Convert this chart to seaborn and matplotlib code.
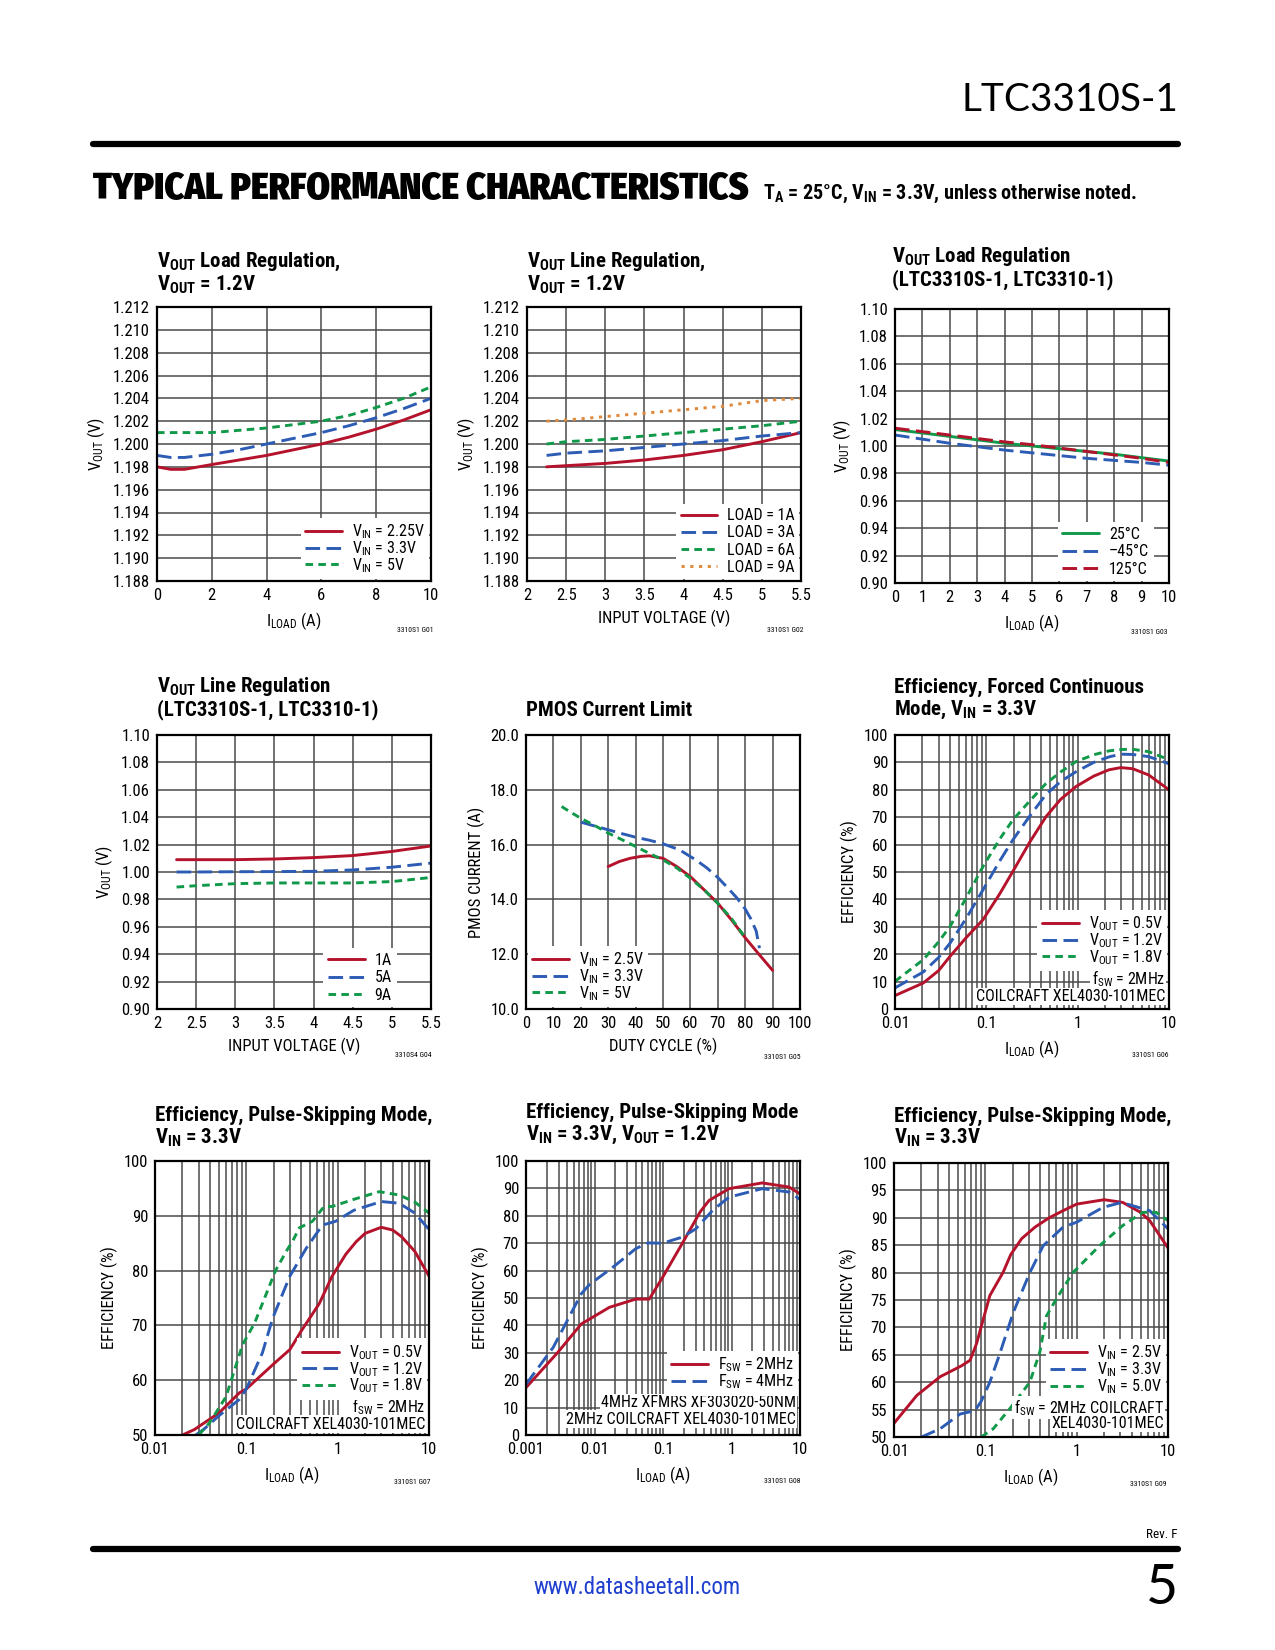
import numpy as np
import matplotlib
matplotlib.use('Agg')
import matplotlib.pyplot as plt
import matplotlib.ticker as mtick
from matplotlib import font_manager as fm
import seaborn as sns


def pick(cands, weight):
    # first candidate family that has a face near the wanted weight
    for c in cands:
        ws = []
        for f in fm.fontManager.ttflist:
            if f.name == c and f.style == 'normal':
                try:
                    ws.append(int(f.weight))
                except (TypeError, ValueError):
                    ws.append(400)
        if ws and min(abs(w - weight) for w in ws) <= 100:
            return c
    return 'DejaVu Sans'


NARROW = ['Liberation Sans Narrow', 'Roboto Condensed', 'Fira Sans Condensed',
          'IBM Plex Sans Condensed', 'Archivo Narrow', 'Asap Condensed']
REG = pick(NARROW, 400)
BOLD = pick(NARROW, 700)
HEAVY = pick(['Roboto Condensed', 'Fira Sans Condensed', 'Asap Condensed',
              'IBM Plex Sans Condensed', 'Liberation Sans Narrow'], 900)
if HEAVY == 'DejaVu Sans':
    HEAVY = BOLD

sns.set_theme(style='white')
plt.rcParams['font.family'] = [REG, 'DejaVu Sans']
plt.rcParams['mathtext.default'] = 'regular'
for k in ['text.color', 'axes.labelcolor', 'xtick.color', 'ytick.color']:
    plt.rcParams[k] = 'black'

RED = '#b5122c'
BLUE = '#2d5cb4'
GREEN = '#11994a'
ORANGE = '#df8a3c'
SOLID = '-'
LONG = (0, (5, 2.2))
SHORT = (0, (2.6, 1.8))
DOT = (0, (1.1, 1.9))

# ---- G01 load regulation, VOUT = 1.2V
g01_x = [0, 0.5, 1, 2, 3, 4, 5, 6, 7, 8, 9, 10]
g01_vin225 = [1.1980, 1.19778, 1.19778, 1.1982, 1.1986, 1.1990, 1.1995, 1.2000, 1.2006, 1.2013, 1.2021, 1.2030]
g01_vin33 = [1.1990, 1.19882, 1.19882, 1.1991, 1.1995, 1.2000, 1.2005, 1.2010, 1.2016, 1.2023, 1.2031, 1.2040]
g01_vin5 = [1.2010, 1.2010, 1.2010, 1.2010, 1.2012, 1.2014, 1.2017, 1.2020, 1.2025, 1.2032, 1.2040, 1.2050]

# ---- G02 line regulation, VOUT = 1.2V
g02_x = [2.25, 2.5, 3, 3.5, 4, 4.5, 5, 5.5]
g02_load1 = [1.1980, 1.1981, 1.1983, 1.1986, 1.1990, 1.1995, 1.2002, 1.2010]
g02_load3 = [1.1990, 1.1992, 1.1994, 1.1997, 1.2000, 1.2003, 1.2007, 1.2010]
g02_load6 = [1.2000, 1.2002, 1.2004, 1.2007, 1.2010, 1.2013, 1.2016, 1.2020]
g02_load9 = [1.2020, 1.2021, 1.2024, 1.2027, 1.2030, 1.2033, 1.2038, 1.2040]

# ---- G03 load regulation vs temperature
g03_x = [0, 1, 2, 3, 4, 5, 6, 7, 8, 9, 10]
g03_t25 = [1.012, 1.0095, 1.007, 1.0045, 1.002, 1.000, 0.998, 0.996, 0.994, 0.9915, 0.989]
g03_tm45 = [1.008, 1.005, 1.002, 0.9995, 0.997, 0.995, 0.993, 0.991, 0.9895, 0.988, 0.986]
g03_t125 = [1.013, 1.0105, 1.008, 1.0055, 1.003, 1.001, 0.9985, 0.996, 0.9935, 0.991, 0.988]

# ---- G04 line regulation vs load
g04_x = [2.25, 2.5, 3, 3.5, 4, 4.5, 5, 5.5]
g04_1a = [1.009, 1.009, 1.009, 1.0095, 1.0105, 1.012, 1.015, 1.019]
g04_5a = [1.000, 1.000, 1.0002, 1.0003, 1.0005, 1.0015, 1.0035, 1.0065]
g04_9a = [0.989, 0.990, 0.9915, 0.992, 0.992, 0.992, 0.993, 0.996]

# ---- G05 PMOS current limit
g05_x25 = [30, 34, 38, 42, 45, 50, 55, 60, 65, 70, 75, 80, 85, 90]
g05_vin25 = [15.2, 15.38, 15.5, 15.57, 15.59, 15.5, 15.2, 14.83, 14.35, 13.86, 13.25, 12.6, 12.0, 11.41]
g05_x33 = [20, 25, 30, 35, 40, 45, 50, 56, 62, 66, 70, 74, 77, 80, 82, 84, 85.2]
g05_vin33 = [16.82, 16.68, 16.54, 16.4, 16.27, 16.16, 16.03, 15.81, 15.44, 15.15, 14.8, 14.38, 14.05, 13.65, 13.3, 12.85, 12.22]
g05_x5 = [13, 16, 20, 25, 30, 35, 40, 45, 50, 55, 60, 65, 70, 75, 80]
g05_vin5 = [17.39, 17.2, 16.96, 16.7, 16.42, 16.18, 15.93, 15.68, 15.44, 15.15, 14.77, 14.35, 13.86, 13.3, 12.6]

# ---- G06 efficiency, forced continuous
g06_x = [0.01, 0.0204, 0.03, 0.04, 0.06, 0.092, 0.14, 0.195, 0.3, 0.45, 0.65, 0.96, 1.5, 2.2, 2.96, 4.0, 6.0, 10]
g06_v05 = [4.9, 9.5, 14.0, 19.2, 26.0, 32.6, 42.0, 50.2, 61.0, 70.2, 76.5, 81.2, 85.0, 87.3, 88.1, 87.7, 85.4, 80.0]
g06_v12 = [7.7, 13.5, 18.8, 24.0, 33.0, 43.5, 54.0, 61.7, 70.5, 78.3, 83.0, 86.6, 90.0, 92.0, 93.0, 92.9, 92.1, 89.5]
g06_v18 = [10.1, 18.0, 24.5, 30.1, 40.5, 52.0, 62.0, 69.0, 76.0, 82.3, 86.5, 90.3, 92.8, 94.2, 94.7, 94.8, 93.9, 91.0]

# ---- G07 efficiency, pulse-skipping, VIN = 3.3V
g07_x05 = [0.02, 0.027, 0.05, 0.084, 0.1, 0.2, 0.3, 0.4, 0.63, 0.87, 1.23, 1.6, 2.0, 3.0, 4.0, 5.0, 7.0, 10]
g07_v05 = [50.0, 51.0, 54.0, 57.7, 58.4, 63.0, 65.6, 69.0, 74.0, 79.0, 83.0, 85.3, 86.8, 87.9, 87.4, 86.2, 83.5, 79.0]
g07_x12 = [0.028, 0.034, 0.05, 0.084, 0.1, 0.15, 0.194, 0.3, 0.45, 0.68, 0.95, 1.5, 3.0, 4.7, 7.0, 10]
g07_v12 = [50.0, 51.0, 53.5, 56.5, 58.4, 65.0, 71.3, 79.0, 84.0, 88.3, 89.0, 91.0, 92.6, 92.3, 90.5, 87.5]
g07_x18 = [0.03, 0.0395, 0.06, 0.091, 0.123, 0.21, 0.28, 0.32, 0.38, 0.53, 0.71, 0.87, 1.5, 2.85, 4.7, 7.0, 10]
g07_v18 = [50.0, 52.2, 57.0, 66.5, 70.4, 80.1, 83.8, 85.3, 87.8, 89.0, 91.7, 91.7, 93.0, 94.4, 93.8, 92.5, 90.5]

# ---- G08 efficiency, pulse-skipping, VOUT = 1.2V
g08_x2 = [0.001, 0.0029, 0.0064, 0.0165, 0.04, 0.063, 0.099, 0.19, 0.35, 0.47, 0.92, 2.8, 6.9, 10]
g08_f2 = [17.3, 30.1, 40.5, 46.6, 49.6, 49.6, 57.6, 69.8, 81.5, 85.6, 89.9, 92.0, 90.5, 88.0]
g08_x4 = [0.001, 0.0025, 0.0064, 0.0085, 0.0185, 0.04, 0.06, 0.099, 0.19, 0.3, 0.53, 0.92, 2.8, 6.9, 10]
g08_f4 = [18.5, 32.0, 51.5, 55.0, 61.2, 68.0, 70.1, 70.0, 72.2, 75.2, 82.0, 86.8, 89.9, 88.7, 86.0]

# ---- G09 efficiency, pulse-skipping vs VIN
g09_x25 = [0.01, 0.0178, 0.032, 0.055, 0.068, 0.08, 0.112, 0.157, 0.19, 0.25, 0.35, 0.5, 0.71, 1.0, 2.0, 3.2, 5.0, 6.3, 10]
g09_v25 = [52.5, 57.6, 61.0, 63.0, 64.0, 67.0, 75.8, 80.1, 83.3, 86.2, 88.3, 90.0, 91.3, 92.5, 93.3, 92.8, 91.0, 89.5, 84.5]
g09_x33 = [0.02, 0.032, 0.053, 0.077, 0.09, 0.112, 0.144, 0.202, 0.307, 0.43, 0.71, 1.0, 1.94, 3.1, 6.3, 10]
g09_v33 = [50.0, 51.5, 54.2, 54.8, 56.5, 60.0, 65.2, 72.7, 80.0, 84.9, 88.3, 89.2, 91.9, 92.8, 91.3, 88.0]
g09_x50 = [0.09, 0.122, 0.186, 0.307, 0.395, 0.467, 0.6, 0.91, 1.78, 3.2, 5.3, 7.4, 10]
g09_v50 = [50.0, 51.5, 55.2, 60.0, 65.5, 72.1, 75.2, 80.0, 84.9, 88.6, 91.0, 91.0, 89.5]

W, H = 1275, 1650
fig = plt.figure(figsize=(W / 100, H / 100), dpi=100)
fig.patch.set_facecolor('white')


def fx(px):
    return px / W


def fy(py):
    return 1 - py / H


def make_ax(left, top, size=274):
    ax = fig.add_axes([fx(left), fy(top + size), size / W, size / H])
    ax.set_facecolor('white')
    for s in ax.spines.values():
        s.set_color('black')
        s.set_linewidth(1.6)
    ax.tick_params(length=0, labelsize=12, pad=5, colors='black')
    ax.set_axisbelow(True)
    return ax


def grid(ax, which='major'):
    ax.grid(True, which=which, color='#4a4a4a', lw=1.1)


def curve(ax, x, y, color, ls, label):
    sns.lineplot(x=x, y=y, ax=ax, color=color, linestyle=ls, lw=2.1, label=label, sort=False)


def leg(ax, loc='lower right', anchor=None, fs=11.5, sp=-0.12):
    # sp: row spacing, labels with subscripts are taller so they get less
    kw = dict(loc=loc, frameon=True, facecolor='white', edgecolor='none', framealpha=1,
              fancybox=False, fontsize=fs, handlelength=2.3, handletextpad=0.6,
              labelspacing=sp, borderpad=0.3, borderaxespad=0.1)
    if anchor is not None:
        kw['bbox_to_anchor'] = anchor
    ax.legend(**kw)


def note(ax, x, y, s, ha='right'):
    ax.text(x, y, s, transform=ax.transAxes, ha=ha, va='center', fontsize=11.5,
            bbox=dict(facecolor='white', edgecolor='none', pad=0.8), zorder=5)


def title(left, ys, lines):
    for y, s in zip(ys, lines):
        fig.text(fx(left), fy(y), s, fontsize=15, fontweight='bold', ha='left', va='center',
                 family=[BOLD, 'DejaVu Sans'])


def fig_id(x, y, s):
    fig.text(fx(x), fy(y), s, fontsize=5.5, ha='center', va='center')


def log_axis(ax, lo, hi, labels):
    ax.set_xscale('log')
    ax.set_xlim(lo, hi)
    ax.xaxis.set_major_locator(mtick.LogLocator(base=10))
    ax.xaxis.set_minor_locator(mtick.LogLocator(base=10, subs=np.arange(2, 10)))
    ax.xaxis.set_minor_formatter(mtick.NullFormatter())
    ticks = [lo * 10 ** i for i in range(len(labels))]
    ax.set_xticks(ticks, labels)
    ax.tick_params(which='minor', length=0)
    ax.grid(True, which='both', axis='x', color='#4a4a4a', lw=1.1)
    ax.grid(True, which='major', axis='y', color='#4a4a4a', lw=1.1)


VOUT = r'V$_{OUT}$'
VIN = r'V$_{IN}$'
ILOAD = r'I$_{LOAD}$ (A)'
LAB = 12
XPAD = 5
YPAD = 4

# ---- header
fig.text(fx(1178), fy(100), 'LTC3310S-1', fontsize=28, ha='right', va='center',
         family=['Lato', 'DejaVu Sans'])
fig.add_artist(plt.Line2D([fx(93), fx(1178)], [fy(144), fy(144)], color='black', lw=4.5))
fig.text(fx(93), fy(189), 'TYPICAL PERFORMANCE CHARACTERISTICS', fontsize=27, fontweight='black',
         ha='left', va='center', family=[HEAVY, 'DejaVu Sans'])
fig.text(fx(763), fy(194), r'T$_{A}$ = 25°C, V$_{IN}$ = 3.3V, unless otherwise noted.',
         fontsize=14.5, fontweight='bold', ha='left', va='center', family=[BOLD, 'DejaVu Sans'])

# ---- G01
ax = make_ax(157, 307)
curve(ax, g01_x, g01_vin225, RED, SOLID, VIN + ' = 2.25V')
curve(ax, g01_x, g01_vin33, BLUE, LONG, VIN + ' = 3.3V')
curve(ax, g01_x, g01_vin5, GREEN, SHORT, VIN + ' = 5V')
ax.set_xlim(0, 10)
ax.set_ylim(1.188, 1.212)
ax.set_xticks(np.arange(0, 11, 2))
ax.set_yticks(np.arange(1.188, 1.2121, 0.002))
ax.yaxis.set_major_formatter(mtick.FormatStrFormatter('%.3f'))
grid(ax)
ax.set_xlabel(ILOAD, fontsize=LAB, labelpad=XPAD)
ax.set_ylabel(VOUT + ' (V)', fontsize=LAB, labelpad=YPAD)
leg(ax)
title(157, [262, 285], [VOUT + ' Load Regulation,', VOUT + ' = 1.2V'])
fig_id(415, 630, '3310S1 G01')

# ---- G02
ax = make_ax(527, 307)
curve(ax, g02_x, g02_load1, RED, SOLID, 'LOAD = 1A')
curve(ax, g02_x, g02_load3, BLUE, LONG, 'LOAD = 3A')
curve(ax, g02_x, g02_load6, GREEN, SHORT, 'LOAD = 6A')
curve(ax, g02_x, g02_load9, ORANGE, DOT, 'LOAD = 9A')
ax.set_xlim(2, 5.5)
ax.set_ylim(1.188, 1.212)
ax.set_xticks(np.arange(2, 5.51, 0.5), ['2', '2.5', '3', '3.5', '4', '4.5', '5', '5.5'])
ax.set_yticks(np.arange(1.188, 1.2121, 0.002))
ax.yaxis.set_major_formatter(mtick.FormatStrFormatter('%.3f'))
grid(ax)
ax.set_xlabel('INPUT VOLTAGE (V)', fontsize=LAB, labelpad=XPAD)
ax.set_ylabel(VOUT + ' (V)', fontsize=LAB, labelpad=YPAD)
leg(ax, sp=0.13)
title(527, [262, 285], [VOUT + ' Line Regulation,', VOUT + ' = 1.2V'])
fig_id(785, 630, '3310S1 G02')

# ---- G03
ax = make_ax(895, 309)
curve(ax, g03_x, g03_t25, GREEN, SOLID, '25°C')
curve(ax, g03_x, g03_tm45, BLUE, LONG, '–45°C')
curve(ax, g03_x, g03_t125, RED, LONG, '125°C')
ax.set_xlim(0, 10)
ax.set_ylim(0.90, 1.10)
ax.set_xticks(np.arange(0, 11, 1))
ax.set_yticks(np.arange(0.90, 1.101, 0.02))
ax.yaxis.set_major_formatter(mtick.FormatStrFormatter('%.2f'))
grid(ax)
ax.set_xlabel(ILOAD, fontsize=LAB, labelpad=XPAD)
ax.set_ylabel(VOUT + ' (V)', fontsize=LAB, labelpad=YPAD)
leg(ax, anchor=(0.95, 0.0), sp=0.15)
title(892, [257, 280], [VOUT + ' Load Regulation', '(LTC3310S-1, LTC3310-1)'])
fig_id(1149, 632, '3310S1 G03')

# ---- G04
ax = make_ax(157, 735)
curve(ax, g04_x, g04_1a, RED, SOLID, '1A')
curve(ax, g04_x, g04_5a, BLUE, LONG, '5A')
curve(ax, g04_x, g04_9a, GREEN, SHORT, '9A')
ax.set_xlim(2, 5.5)
ax.set_ylim(0.90, 1.10)
ax.set_xticks(np.arange(2, 5.51, 0.5), ['2', '2.5', '3', '3.5', '4', '4.5', '5', '5.5'])
ax.set_yticks(np.arange(0.90, 1.101, 0.02))
ax.yaxis.set_major_formatter(mtick.FormatStrFormatter('%.2f'))
grid(ax)
ax.set_xlabel('INPUT VOLTAGE (V)', fontsize=LAB, labelpad=XPAD)
ax.set_ylabel(VOUT + ' (V)', fontsize=LAB, labelpad=YPAD)
leg(ax, anchor=(0.88, 0.0), sp=0.15)
title(157, [687, 710], [VOUT + ' Line Regulation', '(LTC3310S-1, LTC3310-1)'])
fig_id(413, 1055, '3310S4 G04')

# ---- G05
ax = make_ax(526, 735)
curve(ax, g05_x25, g05_vin25, RED, SOLID, VIN + ' = 2.5V')
curve(ax, g05_x33, g05_vin33, BLUE, LONG, VIN + ' = 3.3V')
curve(ax, g05_x5, g05_vin5, GREEN, SHORT, VIN + ' = 5V')
ax.set_xlim(0, 100)
ax.set_ylim(10, 20)
ax.set_xticks(np.arange(0, 101, 10))
ax.set_yticks(np.arange(10, 20.1, 2))
ax.yaxis.set_major_formatter(mtick.FormatStrFormatter('%.1f'))
grid(ax)
ax.set_xlabel('DUTY CYCLE (%)', fontsize=LAB, labelpad=XPAD)
ax.set_ylabel('PMOS CURRENT (A)', fontsize=LAB, labelpad=YPAD)
leg(ax, loc='lower left')
title(526, [710], ['PMOS Current Limit'])
fig_id(782, 1057, '3310S1 G05')

# ---- G06
ax = make_ax(895, 735)
curve(ax, g06_x, g06_v05, RED, SOLID, VOUT + ' = 0.5V')
curve(ax, g06_x, g06_v12, BLUE, LONG, VOUT + ' = 1.2V')
curve(ax, g06_x, g06_v18, GREEN, SHORT, VOUT + ' = 1.8V')
log_axis(ax, 0.01, 10, ['0.01', '0.1', '1', '10'])
ax.set_ylim(0, 100)
ax.set_yticks(np.arange(0, 101, 10))
ax.set_xlabel(ILOAD, fontsize=LAB, labelpad=XPAD)
ax.set_ylabel('EFFICIENCY (%)', fontsize=LAB, labelpad=YPAD)
leg(ax, loc='center right', anchor=(1.0, 0.25))
note(ax, 0.985, 0.11, r'f$_{SW}$ = 2MHz')
note(ax, 0.985, 0.046, 'COILCRAFT XEL4030-101MEC')
title(894, [687, 710], ['Efficiency, Forced Continuous', 'Mode, ' + VIN + ' = 3.3V'])
fig_id(1150, 1055, '3310S1 G06')

# ---- G07
ax = make_ax(155, 1161)
curve(ax, g07_x05, g07_v05, RED, SOLID, VOUT + ' = 0.5V')
curve(ax, g07_x12, g07_v12, BLUE, LONG, VOUT + ' = 1.2V')
curve(ax, g07_x18, g07_v18, GREEN, SHORT, VOUT + ' = 1.8V')
log_axis(ax, 0.01, 10, ['0.01', '0.1', '1', '10'])
ax.set_ylim(50, 100)
ax.set_yticks(np.arange(50, 101, 10))
ax.set_xlabel(ILOAD, fontsize=LAB, labelpad=XPAD)
ax.set_ylabel('EFFICIENCY (%)', fontsize=LAB, labelpad=YPAD)
leg(ax, loc='center right', anchor=(1.0, 0.24))
note(ax, 0.985, 0.105, r'f$_{SW}$ = 2MHz')
note(ax, 0.985, 0.04, 'COILCRAFT XEL4030-101MEC')
title(155, [1115, 1138], ['Efficiency, Pulse-Skipping Mode,', VIN + ' = 3.3V'])
fig_id(412, 1482, '3310S1 G07')

# ---- G08
ax = make_ax(526, 1161)
curve(ax, g08_x2, g08_f2, RED, SOLID, r'F$_{SW}$ = 2MHz')
curve(ax, g08_x4, g08_f4, BLUE, LONG, r'F$_{SW}$ = 4MHz')
log_axis(ax, 0.001, 10, ['0.001', '0.01', '0.1', '1', '10'])
ax.set_ylim(0, 100)
ax.set_yticks(np.arange(0, 101, 10))
ax.set_xlabel(ILOAD, fontsize=LAB, labelpad=XPAD)
ax.set_ylabel('EFFICIENCY (%)', fontsize=LAB, labelpad=YPAD)
leg(ax, loc='center right', anchor=(1.0, 0.225))
note(ax, 0.985, 0.12, '4MHz XFMRS XF303020-50NM')
note(ax, 0.985, 0.058, '2MHz COILCRAFT XEL4030-101MEC')
title(526, [1112, 1135], ['Efficiency, Pulse-Skipping Mode', VIN + ' = 3.3V, ' + VOUT + ' = 1.2V'])
fig_id(782, 1481, '3310S1 G08')

# ---- G09
ax = make_ax(894, 1163)
curve(ax, g09_x25, g09_v25, RED, SOLID, VIN + ' = 2.5V')
curve(ax, g09_x33, g09_v33, BLUE, LONG, VIN + ' = 3.3V')
curve(ax, g09_x50, g09_v50, GREEN, SHORT, VIN + ' = 5.0V')
log_axis(ax, 0.01, 10, ['0.01', '0.1', '1', '10'])
ax.set_ylim(50, 100)
ax.set_yticks(np.arange(50, 101, 5))
ax.set_xlabel(ILOAD, fontsize=LAB, labelpad=XPAD)
ax.set_ylabel('EFFICIENCY (%)', fontsize=LAB, labelpad=YPAD)
leg(ax, loc='center right', anchor=(1.0, 0.245))
note(ax, 0.985, 0.108, r'f$_{SW}$ = 2MHz COILCRAFT')
note(ax, 0.985, 0.048, 'XEL4030-101MEC')
title(894, [1116, 1138], ['Efficiency, Pulse-Skipping Mode,', VIN + ' = 3.3V'])
fig_id(1148, 1484, '3310S1 G09')

# ---- footer
fig.add_artist(plt.Line2D([fx(93), fx(1178)], [fy(1549), fy(1549)], color='black', lw=4.5))
fig.text(fx(1178), fy(1534), 'Rev. F', fontsize=9.5, ha='right', va='center')
fig.text(fx(637), fy(1588), 'www.datasheetall.com', fontsize=16.5, ha='center', va='center',
         color='#1f3fcf', family=[REG, 'DejaVu Sans'])
fig.text(fx(1178), fy(1588), '5', fontsize=40, ha='right', va='center',
         family=['Lato', 'DejaVu Sans'])

fig.savefig('out.png', dpi=100, facecolor='white')
